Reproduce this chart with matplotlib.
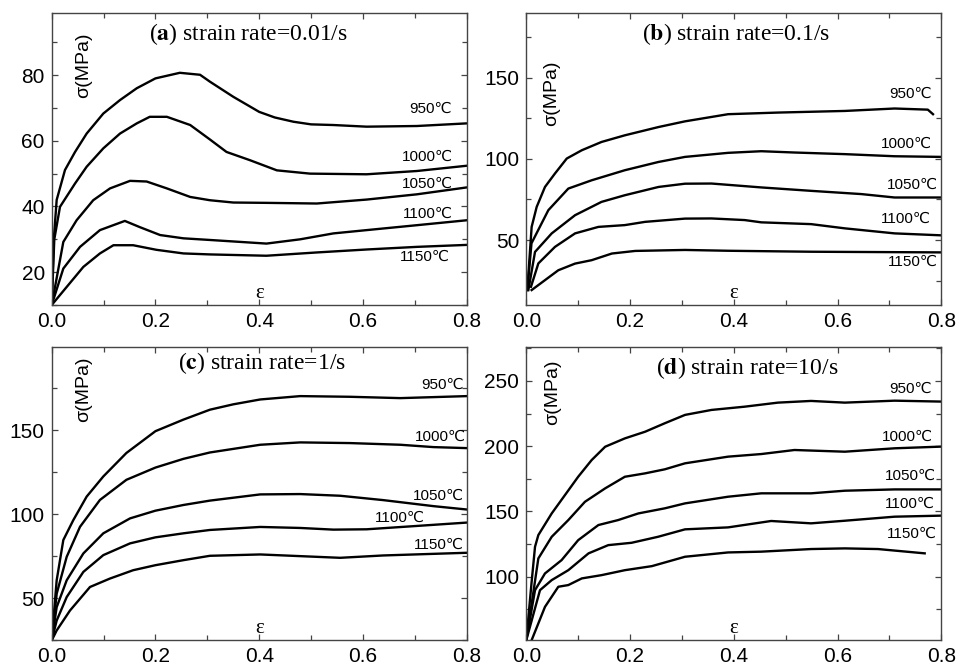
import matplotlib
matplotlib.use("Agg")
import matplotlib.pyplot as plt
from matplotlib.ticker import MultipleLocator, FormatStrFormatter

plt.rcParams['font.family'] = ['Liberation Sans', 'DejaVu Sans']

temps = ["950℃", "1000℃", "1050℃", "1100℃", "1150℃"]

# ---------- (a) strain rate = 0.01/s ----------
a_950_x = [0, 0.004, 0.0096, 0.0256, 0.045, 0.0674, 0.0995, 0.1317, 0.164, 0.2, 0.247, 0.286, 0.305, 0.35, 0.4, 0.43, 0.466, 0.5, 0.543, 0.607, 0.704, 0.8]
a_950_y = [10, 30, 42, 51.1, 56.6, 62.2, 68.3, 72.4, 76, 79, 80.7, 80.1, 78, 73.4, 68.8, 67.1, 65.8, 65, 64.8, 64.3, 64.5, 65.3]
a_1000_x = [0, 0.005, 0.016, 0.045, 0.0674, 0.0995, 0.1317, 0.164, 0.189, 0.222, 0.267, 0.305, 0.337, 0.382, 0.434, 0.498, 0.607, 0.704, 0.8]
a_1000_y = [10, 30, 39.9, 47, 52.1, 57.7, 62.2, 65.3, 67.3, 67.3, 64.8, 60.4, 56.6, 54.1, 51, 50, 49.8, 50.8, 52.4]
a_1050_x = [0, 0.0224, 0.048, 0.080, 0.1124, 0.151, 0.183, 0.222, 0.267, 0.305, 0.35, 0.414, 0.511, 0.607, 0.704, 0.8]
a_1050_y = [10, 29.2, 35.8, 41.9, 45.5, 47.8, 47.6, 45.5, 42.9, 41.9, 41.2, 41.1, 40.9, 42.1, 43.7, 45.8]
a_1100_x = [0, 0.0224, 0.0546, 0.093, 0.141, 0.17, 0.209, 0.254, 0.305, 0.414, 0.479, 0.543, 0.607, 0.704, 0.8]
a_1100_y = [10, 21.1, 27.7, 32.8, 35.6, 33.7, 31.3, 30.3, 29.8, 28.7, 30, 31.8, 32.8, 34.3, 35.8]
a_1150_x = [0, 0.0289, 0.061, 0.093, 0.119, 0.157, 0.202, 0.254, 0.305, 0.414, 0.511, 0.607, 0.704, 0.8]
a_1150_y = [10, 15.5, 21.6, 25.7, 28.2, 28.2, 26.8, 25.7, 25.4, 25, 26, 26.9, 27.7, 28.3]

# ---------- (b) strain rate = 0.1/s ----------
b_950_x = [0.002, 0.0103, 0.02, 0.036, 0.0553, 0.078, 0.107, 0.145, 0.19, 0.255, 0.306, 0.389, 0.485, 0.614, 0.71, 0.774, 0.784]
b_950_y = [19.2, 58.1, 70.4, 82.7, 91, 100.2, 105.3, 110.4, 114.5, 119.6, 123.1, 127.5, 128.5, 129.5, 131, 130.3, 127.5]
b_1000_x = [0.002, 0.01, 0.0197, 0.0425, 0.081, 0.126, 0.19, 0.255, 0.306, 0.389, 0.453, 0.517, 0.614, 0.71, 0.8]
b_1000_y = [19.2, 48, 54.1, 68.4, 81.7, 86.8, 93, 98.1, 101.2, 103.7, 104.7, 103.9, 102.9, 101.6, 101.2]
b_1050_x = [0.004, 0.0168, 0.049, 0.094, 0.145, 0.19, 0.255, 0.306, 0.357, 0.453, 0.549, 0.646, 0.71, 0.8]
b_1050_y = [19.2, 42.7, 54.1, 65.3, 73.5, 77.6, 82.7, 84.7, 84.8, 82.4, 80.3, 78.3, 76.2, 76.2]
b_1100_x = [0.009, 0.0232, 0.0553, 0.094, 0.139, 0.19, 0.229, 0.306, 0.357, 0.421, 0.453, 0.549, 0.614, 0.71, 0.8]
b_1100_y = [21.2, 35.6, 45.8, 54.1, 58.1, 59.2, 61.2, 63.2, 63.3, 62.3, 60.9, 59.8, 57.2, 54.1, 52.9]
b_1150_x = [0.0103, 0.036, 0.0617, 0.094, 0.126, 0.165, 0.21, 0.306, 0.389, 0.549, 0.8]
b_1150_y = [19.2, 25.3, 31.4, 35.5, 37.6, 41.7, 43.3, 43.9, 43.4, 42.8, 42.4]

# ---------- (c) strain rate = 1/s ----------
c_950_x = [0, 0.0096, 0.0224, 0.0417, 0.0674, 0.0995, 0.144, 0.2, 0.254, 0.305, 0.35, 0.402, 0.479, 0.575, 0.672, 0.8]
c_950_y = [24.7, 60.6, 84.6, 96.5, 110.5, 122.5, 136.5, 149.5, 156.4, 162.3, 165.5, 168.4, 170.4, 170, 169.2, 170.4]
c_1000_x = [0, 0.0096, 0.0289, 0.0546, 0.093, 0.144, 0.2, 0.254, 0.305, 0.402, 0.479, 0.575, 0.672, 0.736, 0.8]
c_1000_y = [24.7, 52.6, 74.6, 92.5, 108.5, 120.5, 127.8, 133, 136.8, 141.4, 142.8, 142.4, 141.4, 140, 139.4]
c_1050_x = [0, 0.0096, 0.0289, 0.061, 0.0995, 0.151, 0.2, 0.254, 0.305, 0.402, 0.479, 0.556, 0.639, 0.736, 0.8]
c_1050_y = [24.7, 44.6, 60.6, 76.6, 88.6, 97.5, 102.1, 105.5, 108.1, 111.8, 112, 111, 108.4, 104.8, 102.8]
c_1100_x = [0, 0.0096, 0.0289, 0.061, 0.0995, 0.151, 0.2, 0.254, 0.305, 0.402, 0.479, 0.543, 0.607, 0.704, 0.8]
c_1100_y = [24.7, 36.6, 50.6, 65.6, 75.6, 82.6, 86.2, 88.6, 90.6, 92.4, 91.8, 90.8, 91, 93, 95]
c_1150_x = [0, 0.0096, 0.0353, 0.0738, 0.112, 0.157, 0.2, 0.254, 0.305, 0.402, 0.479, 0.556, 0.639, 0.8]
c_1150_y = [24.7, 30.7, 42.6, 56.6, 61.6, 66.6, 69.6, 72.6, 75.2, 76, 75, 74, 75.4, 77]

# ---------- (d) strain rate = 10/s ----------
d_950_x = [0, 0.01, 0.0168, 0.0232, 0.049, 0.0746, 0.1, 0.126, 0.152, 0.19, 0.229, 0.267, 0.306, 0.357, 0.421, 0.485, 0.549, 0.614, 0.71, 0.8]
d_950_y = [51.4, 94.9, 122.9, 131.9, 148.5, 162.6, 176.6, 189.4, 199.6, 206, 211.1, 217.6, 224, 227.8, 230.3, 233.4, 234.7, 233.4, 234.9, 234.2]
d_1000_x = [0, 0.0232, 0.049, 0.081, 0.113, 0.152, 0.19, 0.229, 0.267, 0.306, 0.389, 0.453, 0.517, 0.614, 0.71, 0.8]
d_1000_y = [51.4, 114, 130.6, 143.4, 157.4, 167.7, 176.6, 179.2, 182.3, 186.9, 192, 194, 197.1, 195.8, 198.4, 199.7]
d_1050_x = [0, 0.0168, 0.036, 0.068, 0.1, 0.139, 0.177, 0.216, 0.267, 0.306, 0.389, 0.453, 0.549, 0.614, 0.71, 0.8]
d_1050_y = [51.4, 89.7, 102.5, 112.7, 128, 139.6, 143.4, 148.5, 152.4, 156.2, 161.3, 163.9, 163.9, 165.9, 166.9, 166.9]
d_1100_x = [0, 0.0264, 0.049, 0.081, 0.12, 0.158, 0.203, 0.254, 0.306, 0.389, 0.472, 0.549, 0.614, 0.71, 0.8]
d_1100_y = [51.4, 89.7, 97.4, 105, 117.9, 124.2, 126, 130.6, 136.3, 137.8, 142.7, 140.9, 142.9, 146, 146.8]
d_1150_x = [0.0103, 0.036, 0.0617, 0.081, 0.107, 0.145, 0.19, 0.242, 0.306, 0.389, 0.453, 0.549, 0.614, 0.678, 0.768]
d_1150_y = [51.4, 76.9, 92.3, 93.6, 98.7, 101.2, 105, 108.1, 115.3, 118.6, 119.2, 121.2, 121.7, 121.2, 117.9]

panels = [
    dict(letter="a", rate="0.01/s", ylim=(10, 99), major=20, minor=10,
         curves=[(a_950_x, a_950_y), (a_1000_x, a_1000_y), (a_1050_x, a_1050_y), (a_1100_x, a_1100_y), (a_1150_x, a_1150_y)],
         labels=[(0.772, 69.8), (0.773, 55.1), (0.773, 47.0), (0.773, 37.9), (0.768, 24.7)],
         title_xy=(0.475, 0.926), sig_xy=(0.076, 0.819), eps_y=0.04),
    dict(letter="b", rate="0.1/s", ylim=(10, 190), major=50, minor=25,
         curves=[(b_950_x, b_950_y), (b_1000_x, b_1000_y), (b_1050_x, b_1050_y), (b_1100_x, b_1100_y), (b_1150_x, b_1150_y)],
         labels=[(0.782, 139.8), (0.782, 109.0), (0.794, 83.8), (0.779, 63.3), (0.794, 36.7)],
         title_xy=(0.506, 0.926), sig_xy=(0.062, 0.724), eps_y=0.04),
    dict(letter="c", rate="1/s", ylim=(25, 199.5), major=50, minor=25,
         curves=[(c_950_x, c_950_y), (c_1000_x, c_1000_y), (c_1050_x, c_1050_y), (c_1100_x, c_1100_y), (c_1150_x, c_1150_y)],
         labels=[(0.794, 177.4), (0.798, 146.4), (0.795, 111.0), (0.720, 98.0), (0.794, 81.8)],
         title_xy=(0.506, 0.945), sig_xy=(0.076, 0.858), eps_y=0.04),
    dict(letter="d", rate="10/s", ylim=(51.5, 275.8), major=50, minor=25,
         curves=[(d_950_x, d_950_y), (d_1000_x, d_1000_y), (d_1050_x, d_1050_y), (d_1100_x, d_1100_y), (d_1150_x, d_1150_y)],
         labels=[(0.782, 243.9), (0.784, 206.8), (0.790, 177.4), (0.787, 156.2), (0.792, 132.7)],
         title_xy=(0.532, 0.928), sig_xy=(0.064, 0.846), eps_y=0.04),
]

fig = plt.figure(figsize=(9.57, 6.69), dpi=100)
W, H = 957, 669
boxes = [(51.7, 12.7, 466.7, 305), (526.3, 12.7, 941.3, 305),
         (51.7, 347.3, 466.7, 640), (526.3, 347.3, 941.3, 640)]

spine_col = "#444444"
for p, (l, t, r, b) in zip(panels, boxes):
    ax = fig.add_axes([l / W, (H - b) / H, (r - l) / W, (b - t) / H])
    for x, y in p["curves"]:
        ax.plot(x, y, color="black", lw=1.7, solid_joinstyle="round")
    ax.set_xlim(0, 0.8)
    ax.set_ylim(*p["ylim"])
    ax.xaxis.set_major_locator(MultipleLocator(0.2))
    ax.xaxis.set_minor_locator(MultipleLocator(0.1))
    ax.yaxis.set_major_locator(MultipleLocator(p["major"]))
    ax.yaxis.set_minor_locator(MultipleLocator(p["minor"]))
    ax.xaxis.set_major_formatter(FormatStrFormatter("%.1f"))
    ax.tick_params(which="both", direction="in", top=True, right=True,
                   color=spine_col, labelsize=15, width=0.9)
    ax.tick_params(which="major", length=4.5, pad=5)
    ax.tick_params(which="minor", length=3.5)
    for s in ax.spines.values():
        s.set_color(spine_col)
        s.set_linewidth(1.0)
    for name, (lx, ly) in zip(temps, p["labels"]):
        ax.text(lx, ly, name, ha="right", va="center", fontsize=11)
    ax.text(p["title_xy"][0], p["title_xy"][1],
            "(" + r"$\mathbf{" + p["letter"] + "}$" + ") strain rate=" + p["rate"],
            transform=ax.transAxes, ha="center", va="center", fontsize=17,
            family="Liberation Serif", math_fontfamily="stix")
    ax.text(p["sig_xy"][0], p["sig_xy"][1], "σ(MPa)", transform=ax.transAxes,
            rotation=90, ha="center", va="center", fontsize=14)
    ax.text(0.5, p["eps_y"], "ε", transform=ax.transAxes, ha="center",
            va="center", fontsize=15, family="Liberation Serif")

fig.savefig("out.png", dpi=100)
